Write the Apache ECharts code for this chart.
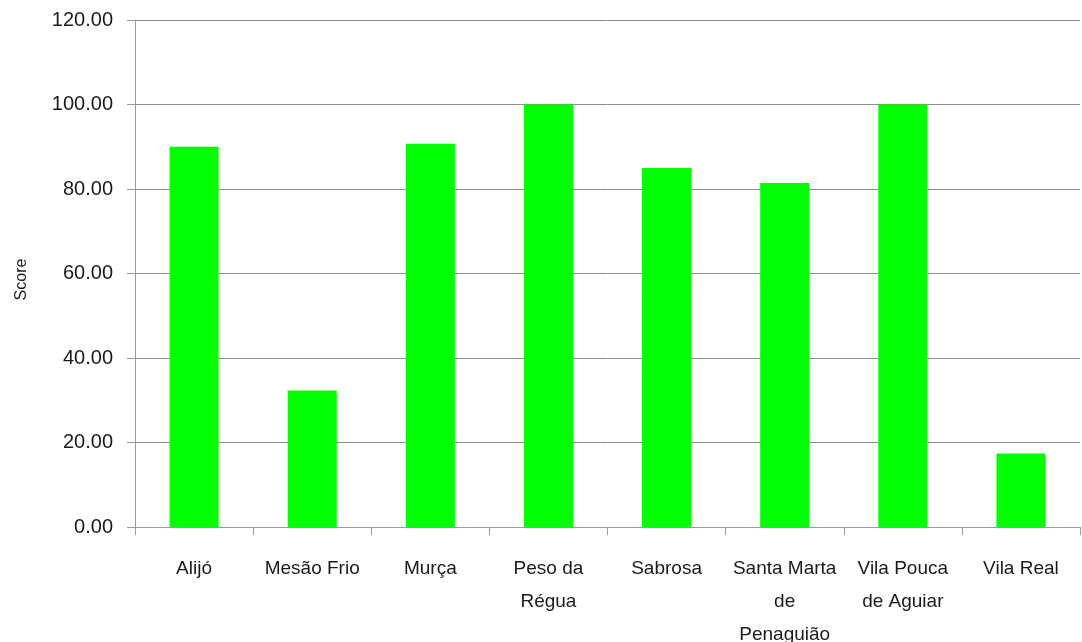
<!DOCTYPE html>
<html>
<head>
<meta charset="utf-8">
<script src="https://cdn.jsdelivr.net/npm/echarts@6/dist/echarts.min.js"></script>
<style>
html,body{margin:0;padding:0;background:#fff;overflow:hidden;}
#chart{width:1082px;height:642px;}
</style>
</head>
<body>
<div id="chart"></div>
<script>
const categories = ["Alijó", "Mesão Frio", "Murça", "Peso da Régua", "Sabrosa", "Santa Marta de Penaguião", "Vila Pouca de Aguiar", "Vila Real"];
const tickLabels = ["Alijó", "Mesão Frio", "Murça", "Peso da\nRégua", "Sabrosa", "Santa Marta\nde\nPenaguião", "Vila Pouca\nde Aguiar", "Vila Real"];
const scores = [90.0, 32.3, 90.7, 100.0, 85.0, 81.4, 100.0, 17.4];
const yTicks = [0, 20, 40, 60, 80, 100, 120];

const FONT = '"Liberation Sans", Arial, sans-serif';
const chart = echarts.init(document.getElementById('chart'), null, {width: 1082, height: 642});
chart.setOption({
  animation: false,
  backgroundColor: '#ffffff',
  grid: {left: 135, right: 2, top: 20, bottom: 115, containLabel: false, outerBoundsMode: 'none'},
  xAxis: {
    type: 'category',
    data: categories,
    axisLine: {show: true, lineStyle: {color: '#999999', width: 1}},
    axisTick: {show: true, alignWithLabel: false, length: 8, lineStyle: {color: '#999999'}},
    axisLabel: {
      interval: 0,
      color: '#1a1a1a',
      fontFamily: FONT,
      fontSize: 19,
      lineHeight: 33,
      margin: 25,
      formatter: function (v, i) { return tickLabels[i]; }
    },
    splitLine: {show: false}
  },
  yAxis: {
    type: 'value',
    min: yTicks[0],
    max: yTicks[yTicks.length - 1],
    interval: 20,
    name: 'Score',
    nameLocation: 'middle',
    nameGap: 105,
    nameRotate: 90,
    nameTextStyle: {color: '#1a1a1a', fontFamily: FONT, fontSize: 16, padding: [0, 12, 0, 0]},
    axisLine: {show: true, lineStyle: {color: '#999999', width: 1}},
    axisTick: {show: true, length: 8, lineStyle: {color: '#999999'}},
    axisLabel: {
      color: '#1a1a1a',
      fontFamily: FONT,
      fontSize: 20,
      margin: 22,
      formatter: function (v) { return v.toFixed(2); }
    },
    splitLine: {show: true, lineStyle: {color: '#8c8c8c', width: 1}}
  },
  series: [{
    type: 'bar',
    data: scores,
    barWidth: 49,
    itemStyle: {color: '#00ff00'}
  }]
});
</script>
</body>
</html>
